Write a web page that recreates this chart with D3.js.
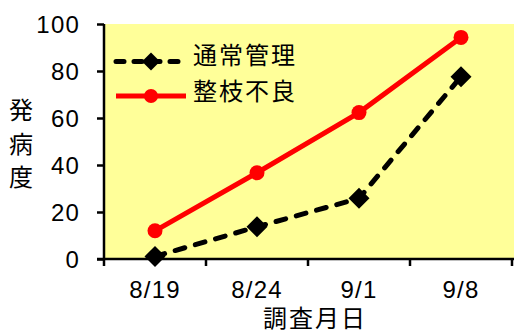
<!DOCTYPE html>
<html><head><meta charset="utf-8">
<script src="https://cdn.jsdelivr.net/npm/d3@7"></script>
<style>
html,body{margin:0;padding:0;background:#fff;}
text{font-family:"Liberation Sans",Arial,sans-serif;fill:#000;}
.cjk{font-family:"Noto Sans CJK JP","Noto Sans CJK SC",sans-serif;}
</style></head>
<body><svg id="c" width="514" height="333"></svg>
<script>
const categories = ["8/19","8/24","9/1","9/8"];
const seriesNames = ["通常管理","整枝不良"];
const normalValues = [1.1, 13.7, 25.8, 77.6];
const poorValues = [12.0, 36.7, 62.3, 94.3];
const yTicks = [0,20,40,60,80,100];
const yLabel = "発病度";
const xLabel = "調査月日";

const svg = d3.select("#c");
const L=104, R=512, T=24, B=259;
const x = d3.scaleBand().domain(categories).range([L,R]);
const y = d3.scaleLinear().domain([0,100]).range([B,T]);

svg.append("rect").attr("x",L).attr("y",T).attr("width",514-L).attr("height",B-T).attr("fill","#FFFF99");

// y axis
const ya = svg.append("g").attr("transform",`translate(${L},0)`).call(d3.axisLeft(y).tickValues(yTicks).tickSize(7).tickPadding(17));
ya.select(".domain").attr("stroke","#000").attr("stroke-width",2.5).attr("d",`M0,${T}V${B}`);
ya.selectAll(".tick line").attr("stroke","#000").attr("stroke-width",2.5);
ya.selectAll(".tick text").attr("font-size",24).attr("font-family","Liberation Sans, Arial").attr("letter-spacing",1.2).attr("dy","0.35em");

// x axis
const xa = svg.append("g").attr("transform",`translate(0,${B})`).call(d3.axisBottom(x).tickSize(0).tickPadding(22));
xa.select(".domain").attr("stroke","#000").attr("stroke-width",2.5).attr("d",`M${L-7},0H514`);
xa.selectAll(".tick text").attr("font-size",24).attr("font-family","Liberation Sans, Arial").attr("letter-spacing",1.2);
const bounds = categories.map(c=>x(c)).concat([R]);
svg.append("g").selectAll("line").data(bounds).join("line")
  .attr("x1",d=>d).attr("x2",d=>d).attr("y1",B).attr("y2",B+7)
  .attr("stroke","#000").attr("stroke-width",2.5);

const cx = c => x(c)+x.bandwidth()/2;
const line = d3.line().x((d,i)=>cx(categories[i])).y(d=>y(d));

svg.append("path").datum(poorValues).attr("d",line).attr("fill","none").attr("stroke","#FF0000").attr("stroke-width",5);
svg.append("path").datum(normalValues).attr("d",line).attr("fill","none").attr("stroke","#000").attr("stroke-width",5)
  .attr("stroke-dasharray","10,11").attr("stroke-linecap","round");

const diamond = (s)=>`M0,${-s}L${s},0L0,${s}L${-s},0Z`;
svg.append("g").selectAll("path").data(normalValues).join("path")
  .attr("transform",(d,i)=>`translate(${cx(categories[i])},${y(d)})`).attr("d",diamond(10.5)).attr("fill","#000");
svg.append("g").selectAll("circle").data(poorValues).join("circle")
  .attr("cx",(d,i)=>cx(categories[i])).attr("cy",d=>y(d)).attr("r",7.5).attr("fill","#FF0000");

// legend
const lg = svg.append("g");
lg.append("line").attr("x1",116).attr("x2",186).attr("y1",61.5).attr("y2",61.5).attr("stroke","#000").attr("stroke-width",5)
  .attr("stroke-dasharray","8,10").attr("stroke-linecap","round");
lg.append("path").attr("transform","translate(151,61.5)").attr("d",diamond(9)).attr("fill","#000");
lg.append("line").attr("x1",116).attr("x2",186).attr("y1",96).attr("y2",96).attr("stroke","#FF0000").attr("stroke-width",5);
lg.append("circle").attr("cx",151).attr("cy",96).attr("r",7).attr("fill","#FF0000");
lg.selectAll("text").data(seriesNames).join("text").attr("class","cjk")
  .attr("x",193).attr("y",(d,i)=>[56,92][i]).attr("dy","0.35em").attr("font-size",24).attr("letter-spacing",2).text(d=>d);

// y label vertical
svg.append("g").selectAll("text").data(Array.from(yLabel)).join("text").attr("class","cjk")
  .attr("x",21).attr("y",(d,i)=>111+i*33.5).attr("dy","0.35em").attr("text-anchor","middle").attr("font-size",24).text(d=>d);
// x label
svg.append("text").attr("class","cjk").attr("x",315).attr("y",319).attr("dy","0.35em").attr("text-anchor","middle")
  .attr("font-size",24).attr("letter-spacing",2).text(xLabel);
</script></body></html>
